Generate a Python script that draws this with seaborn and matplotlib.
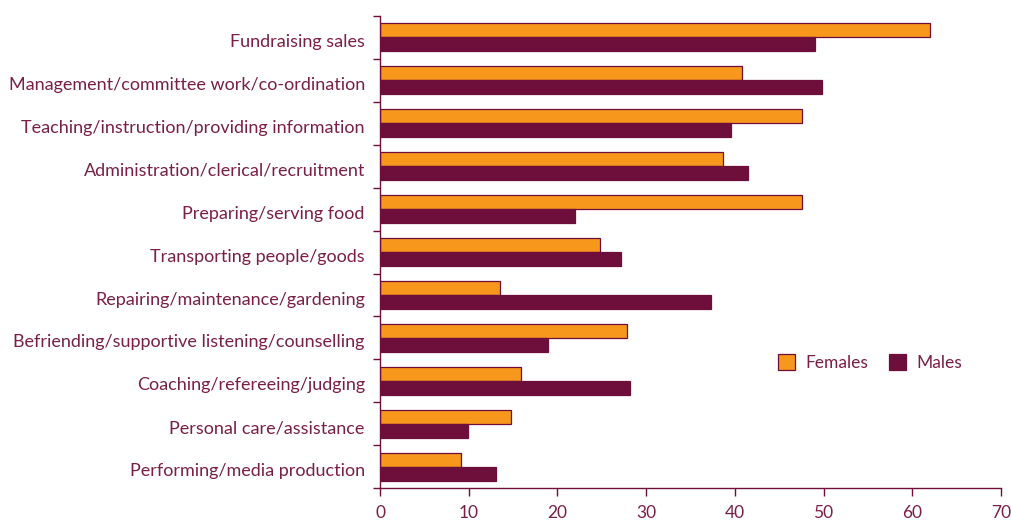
import matplotlib
matplotlib.use("Agg")
import matplotlib.pyplot as plt
import matplotlib.transforms as mtransforms
import seaborn as sns
import pandas as pd
import numpy as np

activities = [
    "Fundraising sales",
    "Management/committee work/co-ordination",
    "Teaching/instruction/providing information",
    "Administration/clerical/recruitment",
    "Preparing/serving food",
    "Transporting people/goods",
    "Repairing/maintenance/gardening",
    "Befriending/supportive listening/counselling",
    "Coaching/refereeing/judging",
    "Personal care/assistance",
    "Performing/media production",
]
females = [62.0, 40.8, 47.6, 38.7, 47.6, 24.8, 13.5, 27.8, 15.9, 14.8, 9.1]
males = [49.0, 49.8, 39.6, 41.5, 22.0, 27.2, 37.3, 18.9, 28.2, 9.9, 13.1]
x_ticks = [0, 10, 20, 30, 40, 50, 60, 70]

ORANGE = "#F7981D"
MAROON = "#6E0E3B"
TEXT = "#7A1F45"

df = pd.DataFrame({
    "activity": activities * 2,
    "value": females + males,
    "sex": ["Females"] * len(activities) + ["Males"] * len(activities),
})

sns.set_style("white")
plt.rcParams["font.family"] = ["Lato", "DejaVu Sans"]

fig = plt.figure(figsize=(10.11, 5.24), dpi=100)
ax = fig.add_axes([0.376, 0.068, 0.614, 0.902])

sns.barplot(data=df, y="activity", x="value", hue="sex", orient="h",
            palette=[ORANGE, MAROON], saturation=1, width=0.66,
            edgecolor=MAROON, linewidth=0.9, ax=ax, errorbar=None)

ax.set_xlim(0, 70)
ax.set_ylim(len(activities) - 0.5, -0.5)
ax.set_xticks(x_ticks)
ax.set_xticklabels([str(t) for t in x_ticks])
ax.set_xlabel("")
ax.set_ylabel("")

for side in ["top", "right"]:
    ax.spines[side].set_visible(False)
for side in ["left", "bottom"]:
    ax.spines[side].set_color(MAROON)
    ax.spines[side].set_linewidth(1.0)

# boundaries between categories carry the y tick marks
ax.set_yticks(np.arange(-0.5, len(activities), 1.0), minor=True)
ax.tick_params(axis="y", which="major", length=0, labelsize=13,
               labelcolor=TEXT, pad=11)
ax.tick_params(axis="y", which="minor", length=5, color=MAROON, width=1,
               direction="out", left=True)
ax.tick_params(axis="x", which="major", length=6, color=MAROON, width=1,
               direction="out", bottom=True, labelsize=12.5,
               labelcolor=TEXT, pad=6)

# nudge category labels slightly downward
shift = mtransforms.ScaledTranslation(0, -3 / 100, fig.dpi_scale_trans)
for lbl in ax.get_yticklabels():
    lbl.set_transform(lbl.get_transform() + shift)

leg = ax.legend(loc="lower left", bbox_to_anchor=(0.615, 0.215), ncol=2,
                frameon=False, fontsize=12.5, handlelength=1.0,
                handleheight=1.0, columnspacing=1.2, handletextpad=0.6)
for t in leg.get_texts():
    t.set_color(TEXT)

fig.savefig("out.png", dpi=100)
